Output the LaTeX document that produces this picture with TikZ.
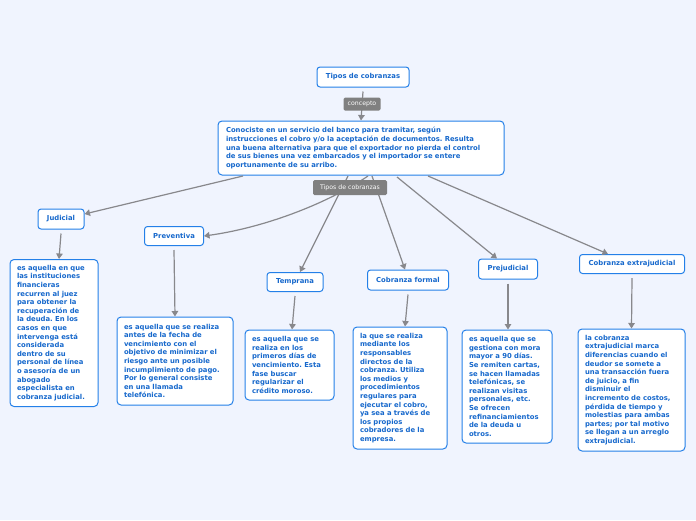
\documentclass[tikz,border=0pt]{standalone}
\usepackage{fontspec}
\setmainfont{DejaVu Sans}
\usetikzlibrary{arrows.meta}
\frenchspacing
\definecolor{bg}{RGB}{240,244,254}
\definecolor{bblue}{RGB}{36,128,232}
\definecolor{tblue}{RGB}{22,104,204}
\definecolor{lgrey}{RGB}{128,128,128}
\definecolor{cgrey}{RGB}{136,136,140}
\tikzset{
  topic/.style={draw=bblue, line width=1pt, fill=white, rounded corners=3pt,
    font=\fontsize{6.85}{8.6}\selectfont\bfseries\frenchspacing, text=tblue, inner sep=0pt},
  desc/.style={topic, rounded corners=4pt, align=left, inner xsep=7pt, inner ysep=4pt},
  lab/.style={fill=lgrey, text=white, rounded corners=1.5pt,
    font=\fontsize{6.2}{7}\selectfont, inner sep=0pt},
  conn/.style={draw=cgrey, line width=1.2pt, -{Triangle[width=6.5pt,length=5.5pt]}},
}
\begin{document}
\begin{tikzpicture}[x=1pt,y=-1pt]
\fill[bg] (0,0) rectangle (696,520);
\useasboundingbox (0,0) rectangle (696,520);

% top
\node[topic, minimum width=92pt, minimum height=20pt] (tipos) at (363,77) {Tipos de cobranzas};
\node[desc, inner xsep=8pt, text width=270pt, minimum height=54pt] (main) at (361,148)
{Conociste en un servicio del banco para tramitar, según\\
instrucciones el cobro y/o la aceptación de documentos. Resulta\\
una buena alternativa para que el exportador no pierda el control\\
de sus bienes una vez embarcados y el importador se entere\\
oportunamente de su arribo.};

% children titles
\node[topic, minimum width=46pt, minimum height=20pt] (jud) at (61,219) {Judicial};
\node[topic, minimum width=59pt, minimum height=19pt] (prev) at (174,236) {Preventiva};
\node[topic, minimum width=56pt, minimum height=19pt] (temp) at (295,282) {Temprana};
\node[topic, minimum width=81pt, minimum height=20pt] (form) at (408,280) {Cobranza formal};
\node[topic, minimum width=59pt, minimum height=20pt] (prej) at (508,269) {Prejudicial};
\node[topic, minimum width=105pt, minimum height=19pt] (extra) at (632,264) {Cobranza extrajudicial};

% descriptions
\node[desc, text width=74pt, minimum height=147pt] (djud) at (54,333)
{es aquella en que\\ las instituciones\\ financieras\\ recurren al juez\\ para obtener la\\ recuperación de\\ la deuda. En los\\ casos en que\\ intervenga está\\ considerada\\ dentro de su\\ personal de línea\\ o asesoría de un\\ abogado\\ especialista en\\ cobranza judicial.};
\node[desc, text width=102pt, minimum height=88pt] (dprev) at (175,361)
{es aquella que se realiza\\ antes de la fecha de\\ vencimiento con el\\ objetivo de minimizar el\\ riesgo ante un posible\\ incumplimiento de pago.\\ Por lo general consiste\\ en una llamada\\ telefónica.};
\node[desc, text width=75pt, minimum height=70pt] (dtemp) at (289.5,365)
{es aquella que se\\ realiza en los\\ primeros días de\\ vencimiento. Esta\\ fase buscar\\ regularizar el\\ crédito moroso.};
\node[desc, text width=80pt, minimum height=122pt] (dform) at (400,388)
{la que se realiza\\ mediante los\\ responsables\\ directos de la\\ cobranza. Utiliza\\ los medios y\\ procedimientos\\ regulares para\\ ejecutar el cobro,\\ ya sea a través de\\ los propios\\ cobradores de la\\ empresa.};
\node[desc, text width=76pt, minimum height=113pt] (dprej) at (507,386.5)
{es aquella que se\\ gestiona con mora\\ mayor a 90 días.\\ Se remiten cartas,\\ se hacen llamadas\\ telefónicas, se\\ realizan visitas\\ personales, etc.\\ Se ofrecen\\ refinanciamientos\\ de la deuda u\\ otros.};
\node[desc, text width=93pt, minimum height=122pt] (dextra) at (631.5,390)
{la cobranza\\ extrajudicial marca\\ diferencias cuando el\\ deudor se somete a\\ una transacción fuera\\ de juicio, a fin\\ disminuir el\\ incremento de costos,\\ pérdida de tiempo y\\ molestias para ambas\\ partes; por tal motivo\\ se llegan a un arreglo\\ extrajudicial.};

% connector start points on main box
\coordinate (s1) at (243,176);
\coordinate (s2) at (368,176);
\coordinate (s3) at (348,176);
\coordinate (s4) at (372,176);
\coordinate (s5) at (397,177);
\coordinate (s6) at (428,176);

% top connector
\draw[conn] (tipos.south) ++(0,4) -- (main.north);
\node[lab, minimum width=37pt, minimum height=13pt] (concepto) at (362,104) {concepto};

% main to children
\draw[conn] (s1) -- ([yshift=5pt]jud.east);
\draw[conn] (s2) .. controls (325,205) and (262,228) .. (prev.east);
\draw[conn] (s3) -- ([xshift=5pt]temp.north);
\draw[conn] (s4) -- ([xshift=-3pt]form.north);
\draw[conn] (s5) -- ([xshift=-11pt]prej.north);
\draw[conn] (s6) -- ([xshift=-24pt]extra.north);
\node[lab, minimum width=74pt, minimum height=15pt] (tipos2) at (350,187.5) {Tipos de cobranzas};

% children to descriptions
\draw[conn] ([yshift=-4pt]jud.south) -- ([xshift=5pt]djud.north);
\draw[conn] ([yshift=-4pt]prev.south) -- (dprev.north);
\draw[conn] ([yshift=-4pt]temp.south) -- ([xshift=2.5pt]dtemp.north);
\draw[conn] ([yshift=-4pt]form.south) -- ([xshift=5pt]dform.north);
\draw[conn] ([yshift=-4pt]prej.south) -- ([xshift=1pt]dprej.north);
\draw[conn] ([yshift=-4pt]extra.south) -- (dextra.north);
\end{tikzpicture}
\end{document}
